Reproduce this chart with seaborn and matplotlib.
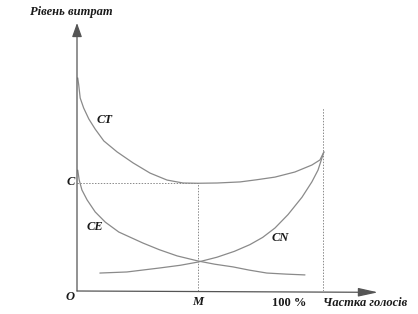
import matplotlib
matplotlib.use("Agg")
import matplotlib.pyplot as plt
import seaborn as sns
import pandas as pd

sns.set_theme(style="white")
plt.rcParams['font.family'] = ['Liberation Serif', 'DejaVu Serif']

# Share of votes (x, % of axis where the dashed line is 100) and cost level (y)
ct_x = [0.3, 0.7, 1.3, 2.7, 4.8, 7.4, 10.9, 16.3, 22.8, 29.7, 36.6, 43.1, 49.2, 57.0, 66.3, 73.0, 80.5, 88.6, 95.5, 98.8, 100.4]
ct_y = [79.5, 76.9, 72.0, 68.3, 64.2, 60.4, 56.0, 51.9, 47.8, 44.0, 41.4, 40.3, 40.2, 40.3, 40.7, 41.5, 42.5, 44.4, 47.0, 48.9, 51.9]

ce_x = [0.3, 0.9, 2.0, 4.1, 7.4, 11.5, 17.0, 26.8, 33.5, 40.7, 49.2, 56.0, 63.4, 70.0, 77.2, 85.0, 92.7]
ce_y = [45.1, 41.4, 37.7, 34.0, 29.5, 25.7, 22.0, 17.9, 15.4, 13.1, 11.2, 10.0, 9.0, 7.8, 6.7, 6.3, 6.0]

cn_x = [9.3, 20.3, 33.7, 42.0, 49.2, 56.9, 64.0, 70.3, 75.5, 80.5, 85.8, 91.5, 95.5, 98.0, 100.4]
cn_y = [6.7, 7.1, 8.6, 9.6, 10.8, 12.6, 14.8, 17.3, 20.0, 23.5, 28.5, 35.0, 40.7, 45.1, 51.9]

m_x = 49.2          # point M
c_y = 40.3          # level C
full_x = 100.0      # 100 % line
full_top = 68.3

curves = pd.concat([
    pd.DataFrame({"x": ct_x, "y": ct_y, "curve": "CT"}),
    pd.DataFrame({"x": ce_x, "y": ce_y, "curve": "CE"}),
    pd.DataFrame({"x": cn_x, "y": cn_y, "curve": "CN"}),
])

W, H = 418, 314
fig = plt.figure(figsize=(W / 100, H / 100), dpi=100)
ax = fig.add_axes([77 / W, 23 / H, 301 / W, 268 / H])
ax.set_xlim(0, 122.4)
ax.set_ylim(0, 100)
ax.axis("off")

sns.lineplot(data=curves, x="x", y="y", units="curve", estimator=None, sort=False,
             color="#8a8a8a", linewidth=0.9, ax=ax, legend=False)

# dotted guide lines
dot = dict(color="#8a8a8a", linewidth=0.7, linestyle=(0, (1.5, 1.5)))
ax.plot([0, m_x], [c_y, c_y], **dot)
ax.plot([m_x, m_x], [0, c_y], **dot)
ax.plot([full_x, full_x], [0, full_top], **dot)

# axes with arrows
ax.annotate("", xy=(0, 100), xytext=(0, 0), annotation_clip=False,
            arrowprops=dict(arrowstyle="-|>,head_length=0.7,head_width=0.25",
                            color="#555555", lw=0.9, shrinkA=0, shrinkB=0))
ax.annotate("", xy=(122.4, -0.5), xytext=(0, 0), annotation_clip=False,
            arrowprops=dict(arrowstyle="-|>,head_length=1.0,head_width=0.22",
                            color="#555555", lw=0.9, shrinkA=0, shrinkB=0))

bi = dict(fontsize=9, fontweight="bold", fontstyle="italic", color="#1a1a1a", clip_on=False)
ax.text(-2.4, 104.2, "Рівень витрат", ha="center", va="center", **bi)
ax.text(11.4, 63.8, "CT", ha="center", va="center", **bi)
ax.text(7.3, 23.9, "CE", ha="center", va="center", **bi)
ax.text(82.5, 19.8, "CN", ha="center", va="center", **bi)
ax.text(-2.6, 40.7, "C", ha="center", va="center", **bi)
ax.text(-2.8, -2.4, "O", ha="center", va="center", **bi)
ax.text(m_x, -4.1, "M", ha="center", va="center", **bi)
ax.text(100.0, -4.5, "Частка голосів", ha="left", va="center", **bi)
ax.text(86.2, -4.5, "100 %", ha="center", va="center", fontsize=9, fontweight="bold",
        color="#1a1a1a", clip_on=False)

fig.savefig("out.png", dpi=100)
